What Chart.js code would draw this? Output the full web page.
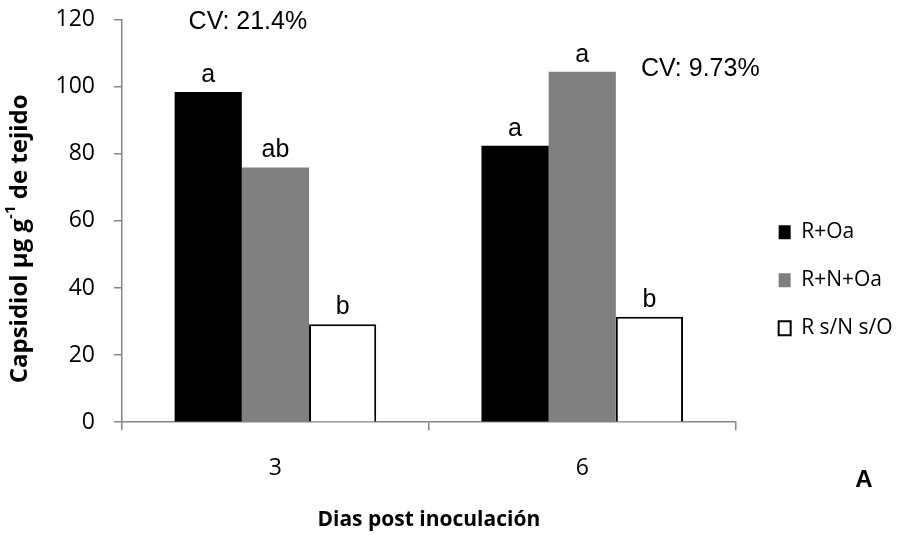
<!DOCTYPE html>
<html>
<head>
<meta charset="utf-8">
<script src="https://cdn.jsdelivr.net/npm/chart.js@4.4.0/dist/chart.umd.min.js"></script>
<style>
  html, body { margin: 0; padding: 0; background: #fff; }
</style>
</head>
<body>
<canvas id="myChart" width="902" height="535"></canvas>
<script>
// data
const days = ['3', '6'];
const seriesNames = ['R+Oa', 'R+N+Oa', 'R s/N s/O'];
const rOa = [98.4, 82.4];
const rNOa = [75.9, 104.4];
const rSinNO = [29.2, 31.4];
const letters = [['a', 'a'], ['ab', 'a'], ['b', 'b']];
const cvLabels = ['CV: 21.4%', 'CV: 9.73%'];
const cvValues = [119.2, 105.1];
const yTicks = [0, 20, 40, 60, 80, 100, 120];

const axisGray = '#868686';
Chart.defaults.font.family = '"Open Sans", sans-serif';
Chart.defaults.color = '#000';

// letters over the bars, the CV notes, the y title (with superscript) and the panel letter
const notes = {
  id: 'notes',
  afterDatasetsDraw(chart) {
    const ctx = chart.ctx;
    const y = chart.scales.y;
    const area = chart.chartArea;
    ctx.save();
    ctx.fillStyle = '#000';
    ctx.font = '25px "Liberation Sans", Arial, sans-serif';
    ctx.textAlign = 'center';
    ctx.textBaseline = 'alphabetic';
    chart.data.datasets.forEach((ds, i) => {
      chart.getDatasetMeta(i).data.forEach((bar, j) => {
        ctx.fillText(letters[i][j], bar.x, bar.y - 10);
      });
    });
    const first = chart.getDatasetMeta(0).data[0];
    const last = chart.getDatasetMeta(2).data[1];
    ctx.textAlign = 'left';
    ctx.textBaseline = 'middle';
    ctx.fillText(cvLabels[0], first.x - first.width / 2 + 14, y.getPixelForValue(cvValues[0]));
    ctx.fillText(cvLabels[1], last.x + last.width / 2 - 42, y.getPixelForValue(cvValues[1]));

    ctx.font = 'bold 24px "Liberation Sans", Arial, sans-serif';
    ctx.textAlign = 'center';
    ctx.fillText('A', chart.width - 38, area.bottom + 58);

    // y axis title
    const big = 'bold 24px "Open Sans", sans-serif';
    const small = 'bold 15px "Open Sans", sans-serif';
    const parts = [['Capsidiol µg g', big, 0], ['-1', small, -9], [' de tejido', big, 0]];
    let total = 0;
    parts.forEach(p => { ctx.font = p[1]; total += ctx.measureText(p[0]).width; });
    ctx.translate(20, area.top + (area.bottom - area.top) / 2 + 18);
    ctx.rotate(-Math.PI / 2);
    ctx.textAlign = 'left';
    let x = -total / 2;
    parts.forEach(p => {
      ctx.font = p[1];
      ctx.fillText(p[0], x, p[2]);
      x += ctx.measureText(p[0]).width;
    });
    ctx.restore();
  }
};

new Chart(document.getElementById('myChart'), {
  type: 'bar',
  data: {
    labels: days,
    datasets: [
      { label: seriesNames[0], data: rOa, backgroundColor: '#000000', borderWidth: 0 },
      { label: seriesNames[1], data: rNOa, backgroundColor: '#808080', borderWidth: 0 },
      { label: seriesNames[2], data: rSinNO, backgroundColor: '#ffffff', borderColor: '#000000', borderWidth: 2 }
    ]
  },
  options: {
    responsive: false,
    animation: false,
    devicePixelRatio: 1,
    categoryPercentage: 0.657,
    barPercentage: 1.0,
    layout: { padding: { top: 19.5, right: 0, bottom: 0, left: 0 } },
    plugins: {
      tooltip: { enabled: false },
      legend: {
        position: 'right',
        align: 'center',
        title: { display: true, text: '', font: { size: 5 }, padding: 0 },
        labels: {
          boxWidth: 12,
          boxHeight: 14,
          padding: 27,
          color: '#000',
          font: { size: 21 }
        }
      }
    },
    scales: {
      x: {
        grid: { drawOnChartArea: false, drawTicks: true, tickLength: 8, color: axisGray, lineWidth: 1.5, offset: true },
        border: { color: axisGray, width: 1.5 },
        ticks: { color: '#000', font: { size: 23 }, padding: 24 },
        title: {
          display: true,
          text: 'Dias post inoculación',
          color: '#000',
          font: { size: 21, weight: 'bold' },
          padding: { top: 2, bottom: 2 }
        }
      },
      y: {
        min: 0,
        max: 120,
        afterBuildTicks: s => { s.ticks = yTicks.map(v => ({ value: v })); },
        grid: { drawOnChartArea: false, tickLength: 8, color: axisGray, lineWidth: 1.5 },
        border: { color: axisGray, width: 1.5 },
        ticks: { color: '#000', font: { size: 23 }, padding: 19 },
        afterFit: s => { s.width = 122; s.paddingTop = 0; s.paddingBottom = 0; }
      },
      // empty right axis, only keeps a gap between the plot and the legend
      gap: {
        position: 'right',
        grid: { display: false },
        border: { display: false },
        ticks: { display: false },
        afterFit: s => { s.width = 16; }
      }
    }
  },
  plugins: [notes]
});
</script>
</body>
</html>
